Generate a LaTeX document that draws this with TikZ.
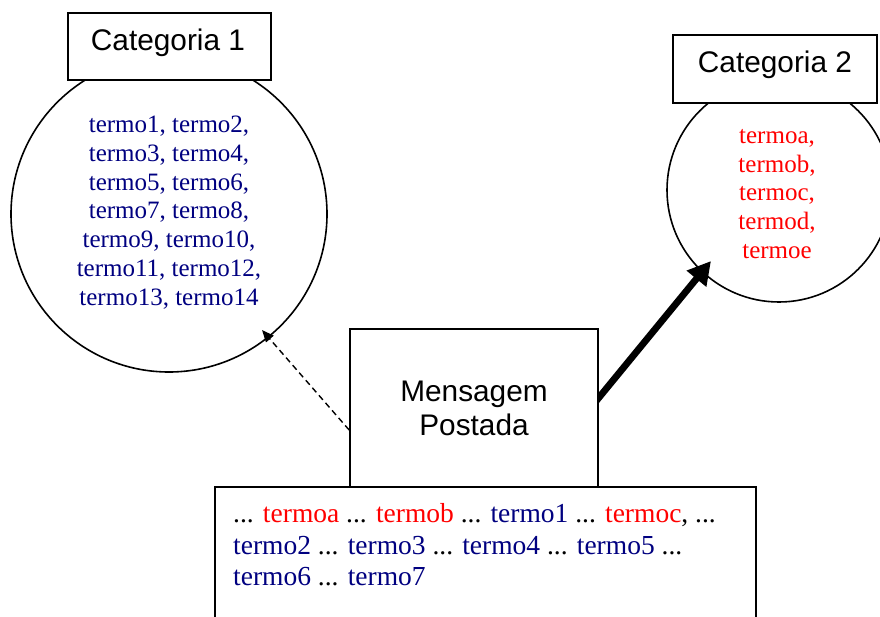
\documentclass[tikz,border=0pt]{standalone}
\usepackage{fontspec}
\setmainfont{Liberation Serif}
\newfontfamily\labelsans{Liberation Sans}
\usetikzlibrary{arrows.meta,backgrounds}
\definecolor{termblue}{RGB}{0,0,128}
\definecolor{termred}{RGB}{255,0,0}
\begin{document}
\begin{tikzpicture}[x=1pt,y=-1pt,
  framebox/.style={draw, rectangle, line width=1.7pt, fill=white, inner sep=0pt},
  ring/.style={draw, circle, line width=1.6pt, inner sep=0pt},
  sanslabel/.style={font=\labelsans\fontsize{29.8}{34}\selectfont, inner sep=0pt, anchor=base},
  termlist/.style={font=\fontsize{25}{28.8}\selectfont, align=center, inner sep=0pt},
  msgtext/.style={font=\fontsize{27.5}{31.5}\selectfont, align=left, inner sep=0pt, anchor=north west, text=black}]
\useasboundingbox (0,0) rectangle (880,617);
\clip (0,0) rectangle (880,617);

% category circles with their term lists
\node[ring, minimum size=316pt] (c1) at (169,214) {};
\node[termlist, text=termblue] (c1terms) at (169,212.5)
  {termo1, termo2,\\termo3, termo4,\\termo5, termo6,\\termo7, termo8,\\termo9, termo10,\\termo11, termo12,\\termo13, termo14};
\node[ring, minimum size=224pt] (c2) at (779,190) {};
\node[termlist, text=termred] (c2terms) at (777,194)
  {termoa,\\termob,\\termoc,\\termod,\\termoe};

% category title boxes
\node[framebox, minimum width=203pt, minimum height=67pt] (cat1) at (169.5,46.5) {};
\node[sanslabel] (cat1label) at (168,51) {Categoria 1};
\node[framebox, minimum width=204pt, minimum height=68pt] (cat2) at (775,69) {};
\node[sanslabel] (cat2label) at (775,73) {Categoria 2};

% posted message and its text
\node[framebox, minimum width=541pt, minimum height=150pt] (post) at (485.5,562) {};
\node[framebox, minimum width=248pt, minimum height=158pt] (msg) at (474,408) {};
\node[sanslabel] (msgl1) at (474,401) {Mensagem};
\node[sanslabel] (msgl2) at (474,435) {Postada};
\node[msgtext] (posttext) at (233,503.5)
  {... {\color{termred}termoa} ... {\color{termred}termob} ... {\color{termblue}termo1} ... {\color{termred}termoc}, ...\\
   {\color{termblue}termo2} ... {\color{termblue}termo3} ... {\color{termblue}termo4} ... {\color{termblue}termo5} ...\\
   {\color{termblue}termo6} ... {\color{termblue}termo7}};

% connectors from the message to the categories
\coordinate (tip1) at (262,330);
\coordinate (tip2) at (711,261);
\begin{scope}[on background layer]
  \draw[line width=1.4pt, dash pattern=on 6pt off 4pt,
        -{Triangle[length=12pt,width=10pt]}]
    ([yshift=-22pt]msg.west) -- (tip1);
  \draw[line width=6.8pt, -{Triangle[length=23pt,width=24pt]}]
    ([xshift=-6pt,yshift=3pt]msg.east) -- (tip2);
\end{scope}
\end{tikzpicture}
\end{document}
